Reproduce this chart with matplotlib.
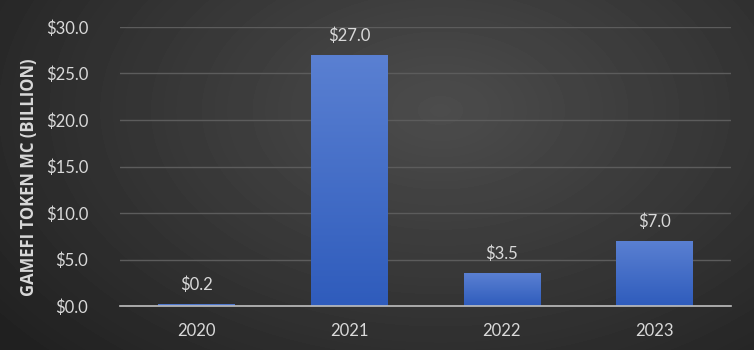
import numpy as np
import matplotlib
matplotlib.use('Agg')
import matplotlib.pyplot as plt

# data
years = ['2020', '2021', '2022', '2023']
market_cap = [0.2, 27.0, 3.5, 7.0]
y_ticks = [0, 5, 10, 15, 20, 25, 30]

plt.rcParams['font.family'] = ['Lato', 'DejaVu Sans']

fig = plt.figure(figsize=(7.54, 3.5), dpi=100)

# radial gradient background
bg = fig.add_axes([0, 0, 1, 1], zorder=0)
h, w = 350, 754
yy, xx = np.mgrid[0:h, 0:w]
r = np.sqrt(((xx - 440) / 520.0) ** 2 + ((yy - 110) / 330.0) ** 2)
shade = np.clip(0.30 - 0.16 * r, 0.13, 0.30)
bg.imshow(shade, cmap='gray', vmin=0, vmax=1, aspect='auto', extent=[0, 1, 0, 1])
bg.axis('off')

ax = fig.add_axes([120 / 754, (350 - 306) / 350, (731 - 120) / 754, (306 - 27) / 350], zorder=1)
ax.patch.set_alpha(0)

x = np.arange(len(years))
bars = ax.bar(x, market_cap, width=0.5, color='#3f68c8', zorder=3)

# vertical gradient on each bar
grad = np.linspace(0, 1, 100).reshape(-1, 1)
cmap = matplotlib.colors.LinearSegmentedColormap.from_list('b', ['#2f5cbc', '#5a80d2'])
for b in bars:
    x0, y0 = b.get_x(), b.get_y()
    im = ax.imshow(grad, cmap=cmap, aspect='auto', origin='lower',
                   extent=[x0, x0 + b.get_width(), y0, y0 + b.get_height()], zorder=3)
    im.set_clip_path(b)

for xi, v in zip(x, market_cap):
    ax.text(xi, v + 1.2, f'${v:.1f}', ha='center', va='bottom', color='#d9d9d9', fontsize=12)

ax.set_xlim(-0.5, len(years) - 0.5)
ax.set_ylim(0, 30)
ax.set_yticks(y_ticks)
ax.set_yticklabels([f'${t:.1f}' for t in y_ticks])
ax.set_xticks(x)
ax.set_xticklabels(years)
ax.tick_params(colors='#d9d9d9', labelsize=12, length=0)
ax.tick_params(axis='y', pad=23)
ax.tick_params(axis='x', pad=12)
ax.grid(axis='y', color='#5c5c5c', linewidth=1, zorder=0)
for s in ['top', 'right', 'left']:
    ax.spines[s].set_visible(False)
ax.spines['bottom'].set_color('#bfbfbf')
ax.spines['bottom'].set_linewidth(1.2)
ax.spines['bottom'].set_zorder(4)

ax.set_ylabel('GAMEFI TOKEN MC (BILLION)', color='#d9d9d9', fontsize=12,
              fontweight='bold', family=['Open Sans', 'DejaVu Sans'])
ax.yaxis.set_label_coords(-0.134, 0.46)

fig.savefig('out.png', dpi=100)
